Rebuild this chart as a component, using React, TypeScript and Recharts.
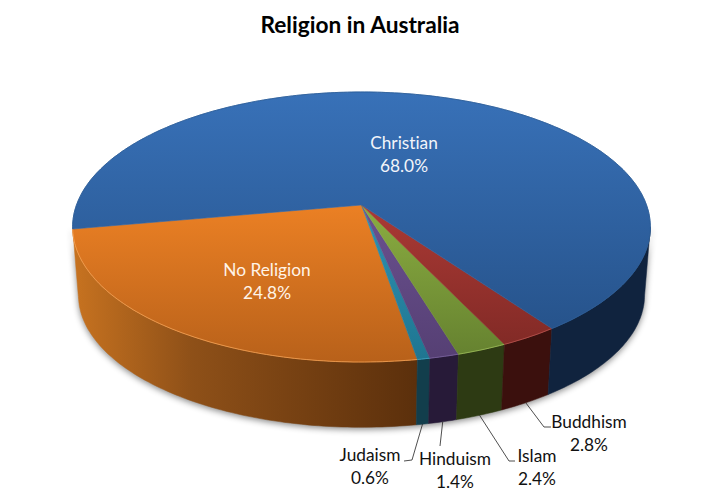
import { Pie, PieChart } from "recharts";

const categories = ["No Religion", "Judaism", "Hinduism", "Islam", "Buddhism", "Christian"];
const shares = [24.8, 0.6, 1.4, 2.4, 2.8, 68.0];

const topFrom = ["#EB8024", "#2E93B4", "#6B5190", "#8BAD41", "#AB3A35", "#3871B8"];
const topTo = ["#B8611A", "#1F7590", "#553F73", "#64802F", "#7D2824", "#244F85"];
const sideColors = ["url(#side-orange)", "#123E4C", "#271A38", "#2D3A13", "#3B100D", "#10233E"];
const rimColors = ["#F5A254", "#3FA5C4", "#7A62A0", "#9CBB57", "#B9504B", "#2A5A94"];

const rows = categories.map((name, i) => ({ name, value: shares[i] }));

// tilt of the disc, the centre of the pie sits above the middle of the ellipse
const CX = 361.5;
const CY = 227;
const RADIUS = 285;
const SQUASH = 0.4737;
const LIFT = 22;
const TILT = 0.163;
const DEPTH = 68;
const FOOT = 0.98;
const START = 190.2;
const EDGE = 9.4;

const labelSpots: Record<string, { x: number; y: number; color: string; leader?: number[][] }> = {
  Christian: { x: 404, y: 142, color: "#F2F5FA" },
  "No Religion": { x: 267, y: 269, color: "#FFF4E8" },
  Buddhism: { x: 589, y: 421, color: "#111111", leader: [[544, 427], [551, 427]] },
  Islam: { x: 537, y: 455, color: "#111111", leader: [[509, 461], [515, 461]] },
  Hinduism: { x: 455, y: 458, color: "#111111", leader: [[440, 446]] },
  Judaism: { x: 370, y: 454, color: "#111111", leader: [[412, 460], [404, 461]] },
};

function project(angle: number, foot = false) {
  const t = (angle * Math.PI) / 180;
  const w = 1 + TILT * Math.sin(t);
  const x = (RADIUS * Math.cos(t)) / w;
  const y = (RADIUS * SQUASH * Math.sin(t) + LIFT) / w;
  if (foot) return [CX + x * FOOT, CY - y * FOOT + DEPTH];
  return [CX + x, CY - y];
}

function arc(from: number, to: number, foot = false) {
  const pts: number[][] = [];
  const n = Math.max(2, Math.ceil(Math.abs(to - from)));
  for (let i = 0; i <= n; i++) pts.push(project(from + ((to - from) * i) / n, foot));
  return pts;
}

const toPath = (pts: number[][]) => pts.map((p, i) => `${i ? "L" : "M"}${p[0].toFixed(1)},${p[1].toFixed(1)}`).join(" ");

function TopSlice(props: any) {
  const i = categories.indexOf(props.name);
  const edge = arc(props.startAngle, props.endAngle);
  const center = [CX, CY - LIFT];
  return (
    <g>
      <path d={`${toPath([center, ...edge])} Z`} fill={`url(#top-${i})`} stroke={`url(#top-${i})`} strokeWidth={0.6} />
      <path d={toPath(edge)} fill="none" stroke={rimColors[i]} strokeWidth={0.8} />
    </g>
  );
}

function SideSlice(props: any) {
  const i = categories.indexOf(props.name);
  // only the front half of the wall can be seen
  const from = Math.max(props.startAngle, 180 + EDGE);
  const to = Math.min(props.endAngle, 360 - EDGE);
  if (to <= from) return <g />;
  const top = arc(from, to);
  const bottom = arc(from, to, true).reverse();
  return <path d={`${toPath([...top, ...bottom])} Z`} fill={sideColors[i]} stroke={sideColors[i]} strokeWidth={0.5} />;
}

function SliceLabel(props: any) {
  const spot = labelSpots[props.name];
  if (!spot) return null;
  const start = project(props.midAngle, true);
  return (
    <g>
      {spot.leader && (
        <path d={toPath([start, ...spot.leader])} fill="none" stroke="#222222" strokeWidth={0.8} />
      )}
      <text
        x={spot.x}
        y={spot.y}
        textAnchor="middle"
        dominantBaseline="central"
        fontFamily="Lato"
        fontSize={17.3}
        fill={spot.color}
        style={{ fontVariantLigatures: "none" }}
      >
        <tspan x={spot.x}>{props.name}</tspan>
        <tspan x={spot.x} dy={23}>{`${props.value.toFixed(1)}%`}</tspan>
      </text>
    </g>
  );
}

export default function App() {
  return (
    <div style={{ position: "absolute", left: 0, top: 0, width: 727, height: 495, background: "#FFFFFF" }}>
      <style>{`.wall-pie { filter: drop-shadow(0px 2px 3px rgba(0,0,0,0.45)); }`}</style>
      <PieChart width={727} height={495} margin={{ top: 0, right: 0, bottom: 0, left: 0 }}>
        <defs>
          {categories.map((name, i) => (
            <linearGradient
              key={name}
              id={`top-${i}`}
              gradientUnits="userSpaceOnUse"
              x1={0}
              y1={name === "Christian" ? 93 : 205}
              x2={0}
              y2={362}
            >
              <stop offset="0%" stopColor={topFrom[i]} />
              <stop offset="100%" stopColor={topTo[i]} />
            </linearGradient>
          ))}
          <linearGradient id="side-orange" gradientUnits="userSpaceOnUse" x1={72} y1={0} x2={415} y2={0}>
            <stop offset="0%" stopColor="#C87320" />
            <stop offset="35%" stopColor="#8E5018" />
            <stop offset="100%" stopColor="#5C300C" />
          </linearGradient>
        </defs>
        <text x={360} y={24} textAnchor="middle" dominantBaseline="central" fontFamily="Lato" fontWeight={700} fontSize={22.7} fill="#000000">
          Religion in Australia
        </text>
        <Pie
          className="wall-pie"
          data={rows}
          dataKey="value"
          nameKey="name"
          cx={CX}
          cy={CY}
          outerRadius={RADIUS}
          startAngle={START}
          endAngle={START + 360}
          stroke="none"
          shape={SideSlice}
          isAnimationActive={false}
        />
        <Pie
          data={rows}
          dataKey="value"
          nameKey="name"
          cx={CX}
          cy={CY}
          outerRadius={RADIUS}
          startAngle={START}
          endAngle={START + 360}
          stroke="none"
          shape={TopSlice}
          label={SliceLabel}
          labelLine={false}
          isAnimationActive={false}
        />
      </PieChart>
    </div>
  );
}
